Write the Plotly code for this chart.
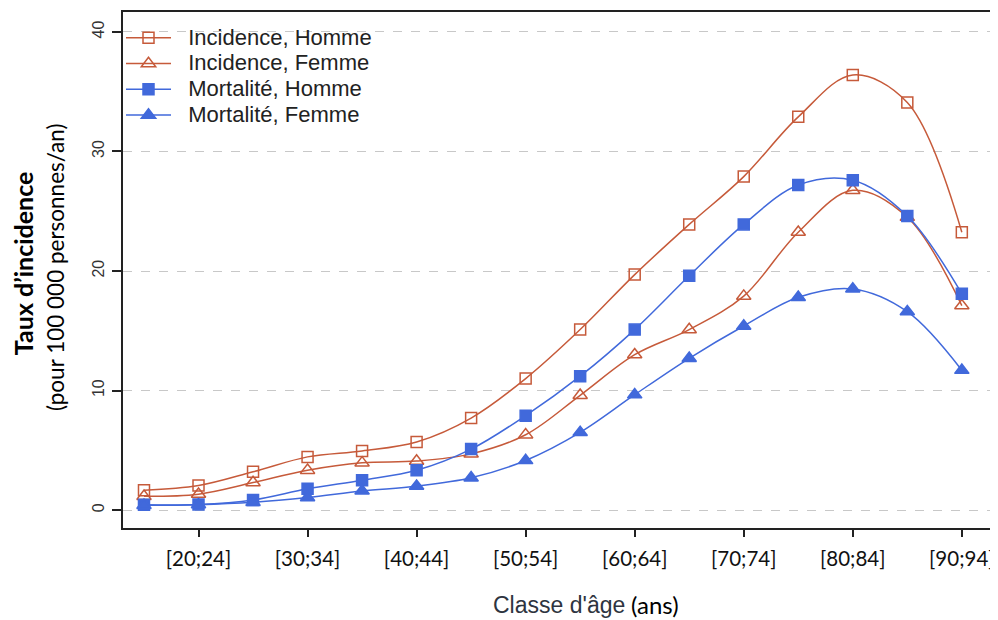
import plotly.graph_objects as go

classes = ["[15;19]", "[20;24]", "[25;29]", "[30;34]", "[35;39]", "[40;44]", "[45;49]", "[50;54]",
           "[55;59]", "[60;64]", "[65;69]", "[70;74]", "[75;79]", "[80;84]", "[85;89]", "[90;94]"]
inc_homme = [1.65, 2.05, 3.2, 4.45, 4.95, 5.7, 7.7, 11.0, 15.1, 19.7, 23.9, 27.9, 32.9, 36.4, 34.1, 23.25]
inc_femme = [1.15, 1.33, 2.3, 3.33, 3.95, 4.1, 4.7, 6.3, 9.6, 13.0, 15.1, 17.9, 23.25, 26.75, 24.5, 17.1]
mort_homme = [0.45, 0.47, 0.85, 1.78, 2.5, 3.33, 5.1, 7.9, 11.2, 15.1, 19.6, 23.9, 27.2, 27.6, 24.6, 18.1]
mort_femme = [0.4, 0.45, 0.65, 1.05, 1.6, 2.0, 2.7, 4.15, 6.5, 9.65, 12.7, 15.4, 17.8, 18.5, 16.6, 11.7]
tick_labels = classes[1::2]
y_ticks = [0, 10, 20, 30, 40]

RED = "#C65A3A"
BLUE = "#4169DB"

series = [
    ("Incidence, Homme", inc_homme, RED, "square-open", 11),
    ("Incidence, Femme", inc_femme, RED, "triangle-up-open", 12.5),
    ("Mortalité, Homme", mort_homme, BLUE, "square", 11),
    ("Mortalité, Femme", mort_femme, BLUE, "triangle-up", 12.5),
]

fig = go.Figure()
for name, vals, col, sym, msize in series:
    fig.add_trace(go.Scatter(
        x=classes, y=vals, mode="lines+markers",
        name="<span style='font-size:22px'>\u00a0\u00a0" + name + "</span>",
        line=dict(color=col, width=1.5, shape="spline", smoothing=1.0),
        marker=dict(symbol=sym, size=msize, color=col, line=dict(color=col, width=1.5)),
    ))

# page body has an 8px margin: work in window pixels and shift by it
OFF = 8
W, H = 998 - OFF, 620 - OFF
L, R, T, B = 123 - OFF, 995 - OFF, 10 - OFF, 528 - OFF

def px2x(px):
    return (px - OFF - L) / (R - L)

def py2y(py):
    return (B - (py - OFF)) / (B - T)

fig.update_layout(
    width=W, height=H,
    margin=dict(l=L, r=W - R, t=T, b=H - B),
    plot_bgcolor="white", paper_bgcolor="white",
    showlegend=True,
    legend=dict(x=px2x(121), y=py2y(18), xanchor="left", yanchor="top",
                bgcolor="rgba(0,0,0,0)",
                font=dict(family="Liberation Sans, Arial", size=17.5, color="#222"),
                itemwidth=45, tracegroupgap=0),
    font=dict(family="Liberation Sans, Arial", color="#222"),
)
fig.update_xaxes(
    type="category", range=[-0.385, 15.59],
    tickmode="array", tickvals=tick_labels, ticktext=tick_labels,
    ticks="outside", ticklen=7, tickwidth=1.5, tickcolor="#222",
    tickfont=dict(family="Lato", size=20.5, color="#111"),
    ticklabelstandoff=5,
    showline=True, linecolor="#222", linewidth=1.5, mirror=True,
    showgrid=False, zeroline=False,
)
fig.update_yaxes(
    range=[-1.5, 41.67],
    tickmode="array", tickvals=y_ticks,
    tickangle=-90,
    ticks="outside", ticklen=9, tickwidth=1.5, tickcolor="#222",
    tickfont=dict(family="Liberation Sans, Arial", size=16, color="#333"),
    ticklabelstandoff=2,
    showline=True, linecolor="#222", linewidth=1.5, mirror=True,
    showgrid=True, gridcolor="#C8C8C8", griddash="dash", gridwidth=1,
    zeroline=False,
)

fig.add_annotation(text="<b>Taux d’incidence</b>", xref="paper", yref="paper",
                   x=px2x(23), y=py2y(262), xanchor="center", yanchor="middle",
                   textangle=-90, showarrow=False,
                   font=dict(family="Lato", size=25, color="#000"))
fig.add_annotation(text="(pour 100 000 personnes/an)", xref="paper", yref="paper",
                   x=px2x(55), y=py2y(266), xanchor="center", yanchor="middle",
                   textangle=-90, showarrow=False,
                   font=dict(family="Lato", size=22.5, color="#000"))
fig.add_annotation(text="Classe d'âge", xref="paper", yref="paper",
                   x=px2x(559), y=py2y(605), xanchor="center", yanchor="middle",
                   showarrow=False,
                   font=dict(family="Liberation Sans, Arial", size=23, color="#2E3440"))
fig.add_annotation(text="(ans)", xref="paper", yref="paper",
                   x=px2x(656), y=py2y(605), xanchor="center", yanchor="middle",
                   showarrow=False,
                   font=dict(family="Lato", size=24, color="#000"))

fig.write_html("out.html")
